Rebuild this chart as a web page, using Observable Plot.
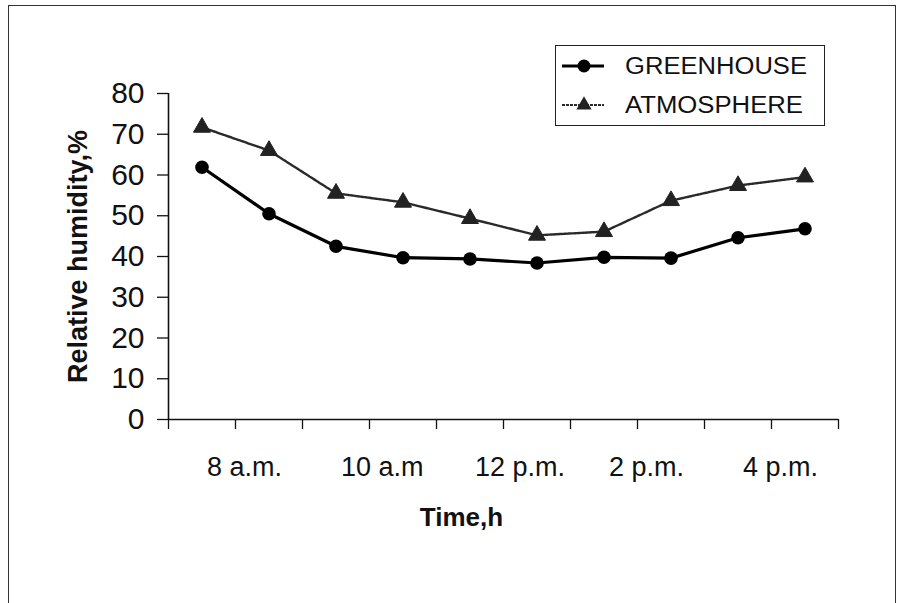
<!DOCTYPE html>
<html>
<head>
<meta charset="utf-8">
<script src="https://cdn.jsdelivr.net/npm/d3@7"></script>
<script src="https://cdn.jsdelivr.net/npm/@observablehq/plot@0.6"></script>
<style>
  html, body { margin: 0; padding: 0; background: #fff; }
  #wrap { position: relative; width: 903px; height: 603px; overflow: hidden; font-family: "Liberation Sans", Arial, sans-serif; }
  #frame { position: absolute; left: 8px; top: 5px; width: 888px; height: 700px; border-left: 1.5px solid #333; border-top: 1.5px solid #333; border-right: 1.5px solid #333; box-sizing: border-box; }
  #chart { position: absolute; left: 0; top: 0; }
  #legend { position: absolute; left: 555px; top: 45px; width: 270px; height: 81px; border: 1.5px solid #222; background: #fff; box-sizing: border-box; }
</style>
</head>
<body>
<div id="wrap">
  <div id="frame"></div>
  <div id="chart"></div>
  <div id="legend"></div>
</div>
<script>
// ---- data ----
const hours = [8, 9, 10, 11, 12, 13, 14, 15, 16, 17];
const greenhouse = [61.9, 50.5, 42.5, 39.7, 39.4, 38.4, 39.8, 39.6, 44.6, 46.8];
const atmosphere = [71.7, 66.0, 55.5, 53.3, 49.3, 45.2, 46.1, 53.7, 57.4, 59.5];
const tickHours = [8, 10, 12, 14, 16];
const tickLabels = ["8 a.m.", "10 a.m", "12 p.m.", "2 p.m.", "4 p.m."];
const yTicks = [0, 10, 20, 30, 40, 50, 60, 70, 80];
const seriesNames = ["GREENHOUSE", "ATMOSPHERE"];
const yTitle = "Relative humidity,%";
const xTitle = "Time,h";

const ghRows = hours.map((h, i) => ({x: i + 0.5, v: greenhouse[i]}));
const atRows = hours.map((h, i) => ({x: i + 0.5, v: atmosphere[i]}));
const labelRows = tickHours.map((h, i) => ({x: hours.indexOf(h) + 0.5, label: tickLabels[i]}));

const chart = Plot.plot({
  width: 903,
  height: 603,
  marginLeft: 168,
  marginRight: 65,
  marginTop: 93,
  marginBottom: 184,
  x: {domain: [0, hours.length], axis: null},
  y: {domain: [0, 80], axis: null},
  style: {fontFamily: "'Liberation Sans', Arial, sans-serif", background: "transparent", color: "#111", overflow: "visible"},
  marks: [
    Plot.axisY({ticks: yTicks, tickSize: 11, tickPadding: 13, fontSize: 30, label: null, tickFormat: d => String(d), strokeWidth: 1.3}),
    Plot.axisX({ticks: d3.range(0, hours.length + 1), tickSize: 10, tickFormat: () => "", label: null, strokeWidth: 1.3}),
    Plot.ruleX([0], {stroke: "#111", strokeWidth: 1.6}),
    Plot.ruleY([0], {stroke: "#111", strokeWidth: 1.6}),
    Plot.line(atRows, {x: "x", y: "v", stroke: "#2a2a2a", strokeWidth: 2.4, strokeDasharray: "3,1"}),
    Plot.dot(atRows, {x: "x", y: "v", symbol: "triangle", r: 6.3, fill: "#222", stroke: "#222", strokeWidth: 1}),
    Plot.line(ghRows, {x: "x", y: "v", stroke: "#000", strokeWidth: 3.2}),
    Plot.dot(ghRows, {x: "x", y: "v", r: 6.8, fill: "#000"}),
    Plot.text(labelRows, {x: "x", y: () => 0, text: "label", dx: 5, dy: 48, textAnchor: "start", fontSize: 27, fill: "#111", ariaLabel: "xlabels"}),
    Plot.text([yTitle], {frameAnchor: "left", textAnchor: "middle", rotate: -90, dx: -90, fontWeight: "bold", fontSize: 27, fill: "#111"}),
    Plot.text([xTitle], {frameAnchor: "bottom", textAnchor: "middle", dx: -42, dy: 106, fontWeight: "bold", fontSize: 26, fill: "#111"})
  ]
});
document.getElementById("chart").appendChild(chart);

// ---- legend ----
const lg = d3.select("#legend").append("svg").attr("width", 267).attr("height", 78)
  .style("font-family", "'Liberation Sans', Arial, sans-serif");
const legendY = [20, 59];
const textLens = [182, 178];
seriesNames.forEach((name, i) => {
  const g = lg.append("g").attr("transform", `translate(0,${legendY[i]})`);
  g.append("line").attr("x1", 6).attr("x2", 48).attr("y1", 0).attr("y2", 0)
    .attr("stroke", i === 0 ? "#000" : "#2a2a2a")
    .attr("stroke-width", i === 0 ? 3 : 2.2)
    .attr("stroke-dasharray", i === 0 ? null : "3,1");
  if (i === 0) {
    g.append("circle").attr("cx", 28).attr("cy", 0).attr("r", 6.5).attr("fill", "#000");
  } else {
    g.append("path").attr("transform", "translate(28,0)")
      .attr("d", d3.symbol(d3.symbolTriangle, 100)()).attr("fill", "#222");
  }
  g.append("text").attr("x", 69).attr("y", 0).attr("dy", "0.35em")
    .attr("font-size", 23).attr("fill", "#111")
    .attr("textLength", textLens[i]).attr("lengthAdjust", "spacingAndGlyphs")
    .text(name);
});
</script>
</body>
</html>
